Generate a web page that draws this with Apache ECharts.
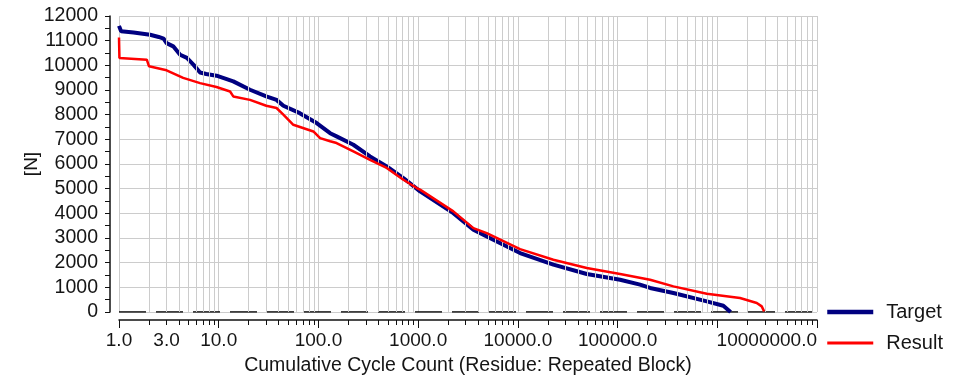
<!DOCTYPE html>
<html>
<head>
<meta charset="utf-8">
<script src="https://cdn.jsdelivr.net/npm/echarts@6/dist/echarts.min.js"></script>
<style>
html,body{margin:0;padding:0;background:#fff;}
#chart{width:966px;height:376px;}
</style>
</head>
<body>
<div id="chart"></div>
<script>
// ---- data ----
const targetN = [1, 1.05, 1.4, 2.05, 2.5, 2.8, 3.0, 3.5, 4.1, 4.8, 5.6, 6.5, 7.5, 9.5, 14, 20.6, 30, 38, 44.5, 65, 96, 131, 152, 224, 329, 484, 711, 1045, 2254, 3580, 4875, 10520, 22700, 49100, 106000, 168000, 211800, 363000, 785000, 1150000, 1340000, 1360000];
const targetV = [11600, 11380, 11330, 11240, 11150, 11080, 10900, 10770, 10430, 10300, 10020, 9710, 9650, 9580, 9350, 9010, 8740, 8600, 8360, 8060, 7660, 7250, 7120, 6780, 6310, 5900, 5430, 4890, 4010, 3340, 3060, 2390, 1920, 1540, 1310, 1110, 975, 770, 430, 255, 24, 0];
const resultN = [1, 1.01, 1.9, 2.0, 3.0, 4.4, 6.5, 9.5, 13, 14, 20.6, 30, 38, 44.5, 56, 89, 104, 131, 152, 224, 329, 484, 711, 968, 1045, 2254, 3580, 4875, 10520, 22700, 49100, 106000, 211800, 363000, 785000, 1690000, 2490000, 2790000, 2950000, 2960000];
const resultV = [11130, 10300, 10230, 9960, 9800, 9490, 9280, 9120, 8940, 8740, 8600, 8360, 8270, 8000, 7590, 7320, 7050, 6920, 6850, 6510, 6170, 5840, 5360, 5025, 4960, 4080, 3400, 3200, 2550, 2120, 1785, 1540, 1310, 1040, 740, 567, 365, 227, 24, 0];
const zeroN = [1, 10000000];
const zeroV = [0, 0];
const xLabelValues = [1, 3, 10, 100, 1000, 10000, 100000, 10000000];
const xMin = 1, xMax = 10000000;
const yMin = 0, yMax = 12000, yStep = 1000;
const seriesNames = ['Target', 'Result'];
const xTitle = 'Cumulative Cycle Count (Residue: Repeated Block)';
const yTitle = '[N]';

// ---- helpers ----
function pairs(xs, ys) { return xs.map((x, i) => [x, ys[i]]); }
const minorGrid = [];
const allTicks = [];
for (let d = 1; d < xMax; d *= 10) {
  for (let m = 1; m <= 9; m++) {
    allTicks.push(m * d);
    if (m > 1) minorGrid.push({ xAxis: m * d });
  }
}
allTicks.push(xMax);
const decadeTicks = [];
for (let d = 1; d <= xMax; d *= 10) decadeTicks.push(d);

const FONT = 'Liberation Sans, Arial, sans-serif';
const TXT = '#151515';
const GRID = '#cccccc';
const NAVY = '#000080';
const RED = '#ff0000';

const chart = echarts.init(document.getElementById('chart'), null, { renderer: 'canvas' });
chart.setOption({
  animation: false,
  backgroundColor: '#fff',
  textStyle: { fontFamily: FONT },
  grid: { left: 119, right: 149, top: 16, bottom: 64, containLabel: false, outerBoundsMode: 'none' },
  legend: {
    data: [
      { name: seriesNames[0], lineStyle: { color: NAVY, width: 4.5 } },
      { name: seriesNames[1], lineStyle: { color: RED, width: 3 } }
    ],
    orient: 'vertical',
    left: 825,
    top: 302,
    padding: 0,
    itemWidth: 46,
    itemHeight: 14,
    itemGap: 11,
    itemStyle: { opacity: 0 },
    textStyle: { fontSize: 20, color: TXT, fontFamily: FONT, padding: [0, 0, 0, 8] },
    selectedMode: false
  },
  xAxis: [{
    type: 'log',
    logBase: 10,
    min: xMin,
    max: xMax,
    offset: 8,
    name: xTitle,
    nameLocation: 'middle',
    nameGap: 36,
    nameTextStyle: { fontSize: 19.5, color: TXT, fontFamily: FONT },
    axisLine: { show: true, onZero: false, lineStyle: { color: '#111', width: 1.5 } },
    axisTick: { show: true, customValues: allTicks, length: 5, lineStyle: { color: '#111', width: 1 } },
    axisLabel: {
      customValues: xLabelValues,
      formatter: v => Number(v).toFixed(1),
      fontSize: 19,
      color: TXT,
      margin: 11,
      fontFamily: FONT,
      alignMaxLabel: 'right',
      hideOverlap: false
    },
    splitLine: { show: true, lineStyle: { color: GRID, width: 1 } }
  }, {
    type: 'log',
    logBase: 10,
    min: xMin,
    max: xMax,
    offset: 8,
    position: 'bottom',
    axisLine: { show: false, onZero: false },
    axisTick: { show: true, customValues: decadeTicks, length: 8, lineStyle: { color: '#111', width: 1 } },
    axisLabel: { show: false },
    splitLine: { show: false }
  }],
  yAxis: {
    type: 'value',
    min: yMin,
    max: yMax,
    interval: yStep,
    offset: 9,
    name: yTitle,
    nameLocation: 'middle',
    nameGap: 69,
    nameMoveOverlap: false,
    nameRotate: 90,
    nameTextStyle: { fontSize: 19, color: TXT, fontFamily: FONT },
    axisLine: { show: true, onZero: false, lineStyle: { color: '#111', width: 1.5 } },
    axisTick: { show: true, length: 5, lineStyle: { color: '#111' } },
    minorTick: { show: true, splitNumber: 2, length: 5, lineStyle: { color: '#111' } },
    axisLabel: { fontSize: 19.5, color: TXT, margin: 12, fontFamily: FONT, formatter: v => String(v) },
    splitLine: { show: true, lineStyle: { color: GRID, width: 1 } }
  },
  series: [
    {
      name: '_grid',
      type: 'line',
      data: [],
      silent: true,
      markLine: {
        silent: true,
        symbol: 'none',
        label: { show: false },
        lineStyle: { color: GRID, width: 1, type: 'solid' },
        data: minorGrid,
        animation: false
      }
    },
    {
      name: '_zero',
      type: 'line',
      data: pairs(zeroN, zeroV),
      symbol: 'none',
      silent: true,
      lineStyle: { color: '#000', width: 1.6, type: [27, 10] },
      z: 3
    },
    {
      name: seriesNames[0],
      type: 'line',
      data: pairs(targetN, targetV),
      symbol: 'none',
      color: NAVY,
      lineStyle: { color: NAVY, width: 4 },
      z: 4
    },
    {
      name: seriesNames[1],
      type: 'line',
      data: pairs(resultN, resultV),
      symbol: 'none',
      color: RED,
      lineStyle: { color: RED, width: 2.5 },
      z: 5
    }
  ]
});
</script>
</body>
</html>
